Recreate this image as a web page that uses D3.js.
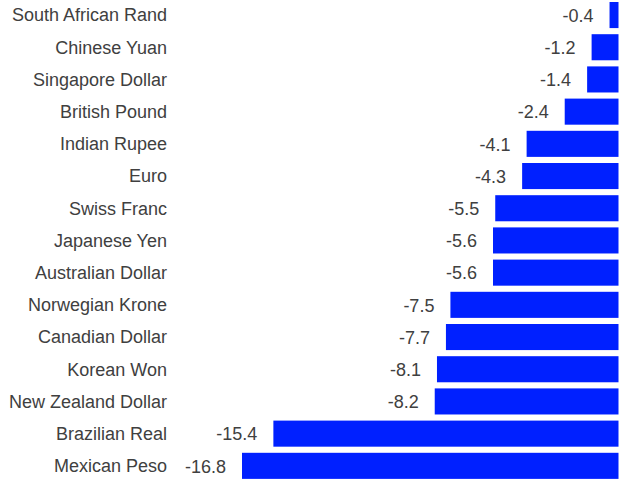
<!DOCTYPE html>
<html>
<head>
<meta charset="utf-8">
<script src="https://cdn.jsdelivr.net/npm/d3@7"></script>
<style>
  body { margin: 0; background: #fff; }
  text { font-family: "Liberation Sans", Arial, sans-serif; font-size: 18px; fill: #404040; }
</style>
</head>
<body>
<div id="chart"></div>
<script>
// --------------------------------------
//  Data
// --------------------------------------

const currencies = [
  "South African Rand", "Chinese Yuan", "Singapore Dollar", "British Pound",
  "Indian Rupee", "Euro", "Swiss Franc", "Japanese Yen", "Australian Dollar",
  "Norwegian Krone", "Canadian Dollar", "Korean Won", "New Zealand Dollar",
  "Brazilian Real", "Mexican Peso"
];
const changes = [-0.4, -1.2, -1.4, -2.4, -4.1, -4.3, -5.5, -5.6, -5.6, -7.5, -7.7, -8.1, -8.2, -15.4, -16.8];

const data = currencies.map((name, i) => ({ name, value: changes[i] }));

// --------------------------------------
//  Canvas
// --------------------------------------

const width = 624;
const height = 480;

const svg = d3
  .select("#chart")
  .append("svg")
  .attr("width", width)
  .attr("height", height);

// --------------------------------------
//  Scales
// --------------------------------------

const x = d3.scaleLinear([-16.8, 0], [242, 618.5]);
const y = d3.scaleBand(currencies, [-1.06, 481.94])
  .paddingInner(0.19)
  .paddingOuter(0.095);

// --------------------------------------
//  Bars
// --------------------------------------

svg.selectAll("rect.bar")
  .data(data)
  .join("rect")
  .attr("class", "bar")
  .attr("x", d => x(d.value))
  .attr("y", d => y(d.name))
  .attr("width", d => x(0) - x(d.value))
  .attr("height", y.bandwidth())
  .attr("fill", "#0020ff");

// value labels
svg.selectAll("text.value")
  .data(data)
  .join("text")
  .attr("class", "value")
  .attr("x", d => x(d.value) - 16)
  .attr("y", d => y(d.name) + y.bandwidth() / 2)
  .attr("dy", "0.38em")
  .attr("text-anchor", "end")
  .text(d => d3.format(".1f")(d.value).replace("−", "-"));

// category axis
const yAxis = svg.append("g")
  .attr("class", "y-axis")
  .attr("transform", "translate(167,0)")
  .call(d3.axisLeft(y).tickSize(0).tickPadding(0));

yAxis.select(".domain").remove();
yAxis.selectAll("text")
  .attr("fill", "#404040")
  .attr("dy", "0.35em")
  .style("font-size", "18px")
  .style("font-family", "'Liberation Sans', Arial, sans-serif");
</script>
</body>
</html>
